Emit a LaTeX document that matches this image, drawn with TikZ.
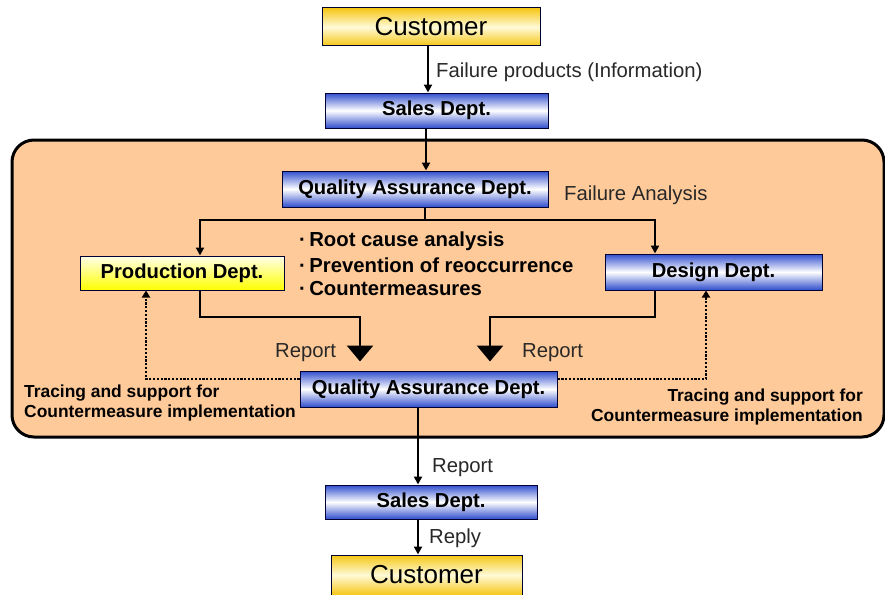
\documentclass[tikz,border=0pt]{standalone}
\usepackage{fontspec}
\setmainfont{Liberation Sans}
\usetikzlibrary{arrows.meta,calc}
\definecolor{peach}{RGB}{255,202,153}
\definecolor{boxblue}{RGB}{48,78,205}
\definecolor{gold}{RGB}{245,198,20}
\definecolor{paleyel}{RGB}{255,250,215}
\definecolor{txt}{RGB}{40,40,40}
\begin{document}
\begin{tikzpicture}[x=1pt,y=-1pt,
  boxbase/.style={draw=black!80!blue, line width=1pt, inner sep=0pt, text=black},
  bluebox/.style={boxbase, top color=boxblue, bottom color=boxblue, middle color=white, font=\bfseries\fontsize{20.2}{22}\selectfont},
  custbox/.style={boxbase, top color=gold, bottom color=gold, middle color=paleyel, font=\fontsize{26}{30}\selectfont},
  prodbox/.style={boxbase, top color=yellow!8, bottom color=yellow, font=\bfseries\fontsize{20.2}{22}\selectfont},
  lbl/.style={inner sep=0pt, text=txt, font=\fontsize{20.3}{22}\selectfont},
  bul/.style={inner sep=0pt, text=black, font=\bfseries\fontsize{20.3}{22}\selectfont},
  trace/.style={inner sep=0pt, text=black, font=\bfseries\fontsize{17.4}{20}\selectfont},
  arr/.style={-{Triangle[width=8pt,length=8pt]}, line width=2pt},
  bigarr/.style={-{Triangle[width=26pt,length=16pt]}, line width=2.8pt, shorten >=9pt},
  dotarr/.style={-{Triangle[width=8pt,length=7pt]}, line width=2.4pt, dash pattern=on 2.2pt off 1.6pt}
]
\fill[white] (0,0) rectangle (885,594);
\useasboundingbox (0,0) rectangle (885,594);
\draw[line width=3pt, fill=peach, rounded corners=22pt] (12,140) rectangle (884,437);

\node[custbox, minimum width=218pt, minimum height=38pt] (cust1) at (431,27) {Customer};
\node[bluebox, minimum width=223pt, minimum height=35pt] (sales1) at (436.5,110.5) {Sales Dept.};
\node[bluebox, minimum width=266pt, minimum height=36pt] (qa1) at (415,189) {Quality Assurance Dept.};
\node[prodbox, minimum width=204pt, minimum height=34pt] (prod) at (182,273) {Production Dept.};
\node[bluebox, minimum width=217pt, minimum height=36pt] (design) at (713.5,272) {Design Dept.};
\node[bluebox, minimum width=257pt, minimum height=36pt] (qa2) at (428.5,389) {Quality Assurance Dept.};
\node[bluebox, minimum width=212pt, minimum height=34pt] (sales2) at (431,502) {Sales Dept.};
\node[custbox, minimum width=191pt, minimum height=40pt] (cust2) at (426.5,575) {Customer};

\node[lbl, anchor=west] (fp) at (436,72) {Failure products (Information)};
\node[lbl, anchor=west] (fa) at (564,195) {Failure Analysis};
\node[bul, anchor=west] (b1) at (299,241) {·\,Root cause analysis};
\node[bul, anchor=west] (b2) at (299,265) {·\,Prevention of reoccurrence};
\node[bul, anchor=west] (b3) at (299,289) {·\,Countermeasures};
\node[lbl, anchor=west] (r1) at (275,353) {Report};
\node[lbl, anchor=west] (r2) at (522,353) {Report};
\node[lbl, anchor=west] (r3) at (432,468) {Report};
\node[lbl, anchor=west] (rp) at (429,538) {Reply};
\node[trace, anchor=west, align=left] (tl) at (24,403) {Tracing and support for\\Countermeasure implementation};
\node[trace, anchor=east, align=right] (tr) at (863,407) {Tracing and support for\\Countermeasure implementation};

\draw[arr] ([xshift=-3pt]cust1.south) -- ([xshift=-3pt]cust1.south |- sales1.north);
\draw[arr] ([xshift=-10.5pt]sales1.south) -- ([xshift=-10.5pt]sales1.south |- qa1.north);
\coordinate (split) at (425,220);
\draw[line width=2pt] ([xshift=10pt]qa1.south) -- (split);
\draw[arr] (split) -| ([xshift=18pt]prod.north);
\draw[arr] (split) -| ([xshift=-58.5pt]design.north);
\coordinate (pbend) at (200,317);
\coordinate (dbend) at (655,317);
\draw[bigarr] ([xshift=18pt]prod.south) -- (pbend) -| ([xshift=-68.5pt]qa2.north);
\draw[bigarr] ([xshift=-58.5pt]design.south) -- (dbend) -| ([xshift=61.5pt]qa2.north);
\draw[dotarr] ([yshift=10pt]qa2.west) -| ([xshift=-36pt]prod.south);
\draw[dotarr] ([yshift=10pt]qa2.east) -| ([xshift=-7.5pt]design.south);
\draw[arr] ([xshift=-10.5pt]qa2.south) -- ([xshift=-10.5pt]qa2.south |- sales2.north);
\draw[arr] ([xshift=-13pt]sales2.south) -- ([xshift=-13pt]sales2.south |- cust2.north);
\end{tikzpicture}
\end{document}
